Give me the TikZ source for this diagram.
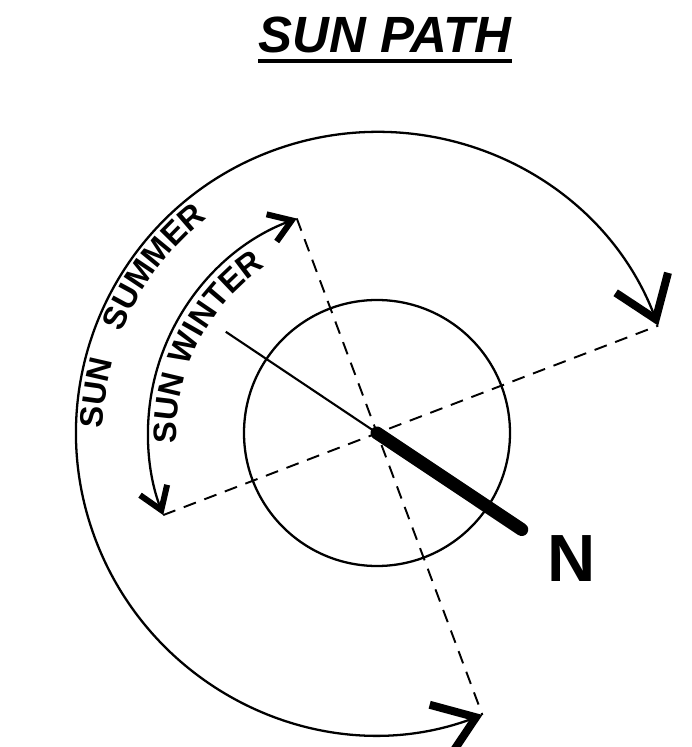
\documentclass[tikz,border=0pt]{standalone}
\usepackage{fontspec}
\setmainfont{Liberation Sans}
\usetikzlibrary{arrows.meta,calc,decorations.text}

\begin{document}
\begin{tikzpicture}[x=0.02cm,y=0.02cm,
  ring/.style={line width=1.3pt},
  dashline/.style={line width=1.1pt, dash pattern=on 0.26cm off 0.18cm},
  bigbarb/.style={>={Straight Barb[length=0.78cm,width=1.12cm,line width=0.16cm]}, <->},
  smallbarb/.style={>={Straight Barb[length=0.43cm,width=0.58cm,line width=0.12cm]}, <->},
  arclabel/.style={decorate, decoration={text along path, text align=left, text={#1}}}]
\useasboundingbox (-377,-314) rectangle (315,433);
\coordinate (C) at (0,0);
\coordinate (wA) at (110.5:229);
\coordinate (wB) at (201:229);
\coordinate (sA) at (290.5:301);
\coordinate (sB) at (20.9:301);
\node[font=\bfseries\itshape\fontsize{29}{31}\selectfont, inner sep=0, anchor=base] (title) at (8,380) {SUN PATH};
\draw[line width=0.07cm] ($(title.base west)+(0,-8)$) -- ($(title.base east)+(0,-8)$);
\draw[dashline] (wA) -- (sA);
\draw[dashline] (wB) -- (sB);
\draw[ring] (C) circle[radius=133];
\draw[ring,bigbarb] (sA) arc[start angle=290.5, end angle=20.9, radius=301];
\draw[ring,smallbarb] (wA) arc[start angle=110.5, end angle=201, radius=229];
\begin{scope}
\bfseries\fontsize{18.5}{20}\selectfont
\path[arclabel=SUN] (179:274) arc[start angle=179, end angle=140, radius=274];
\path[arclabel=SUMMER] (158.5:274) arc[start angle=158.5, end angle=100, radius=274];
\path[arclabel=SUN] (183:200) arc[start angle=183, end angle=140, radius=200];
\path[arclabel=WINTER] (160.5:200) arc[start angle=160.5, end angle=100, radius=200];
\end{scope}
\draw[line width=1.2pt] (C) -- (146.2:182);
\draw[line width=0.26cm, line cap=round] (C) -- (-33.7:174);
\node[font=\bfseries\fontsize{38}{40}\selectfont] (nlabel) at (195,-126) {N};
\end{tikzpicture}
\end{document}
